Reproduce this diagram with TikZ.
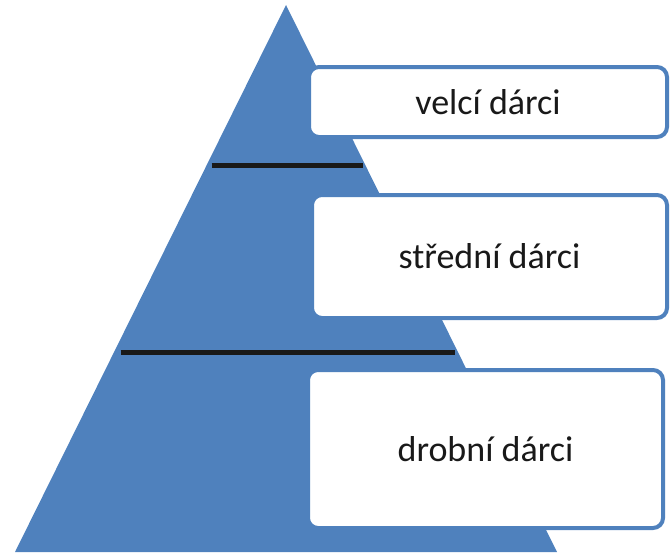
\documentclass[tikz,border=0pt]{standalone}
\usepackage{fontspec}
\setmainfont{Carlito}
\usepackage{tikz}
\usetikzlibrary{calc}
\definecolor{pyramidblue}{HTML}{4F81BD}
\colorlet{donortext}{black!90}
\tikzstyle{donorbox} = [
    draw=pyramidblue,
    fill=white,
    line width=4pt,
    rounded corners=10pt,
    rectangle,
    inner sep=0pt,
    text=donortext,
    font=\fontsize{36}{40}\selectfont
    ]
\tikzstyle{levelline} = [
    draw=black!90,
    line width=5pt
    ]

\begin{document}
\begin{tikzpicture}[x=1pt,y=-1pt]
\useasboundingbox (0,0) rectangle (671,554);
% pyramid
\coordinate (apex) at (286,5);
\coordinate (baseleft) at (15,552);
\coordinate (baseright) at (557,552);
\fill[pyramidblue] (apex) -- (baseleft) -- (baseright) -- cycle;
% levels
\coordinate (upleft) at ($(apex)!0.293!(baseleft)+(5,0)$);
\coordinate (upright) at ($(apex)!0.293!(baseright)+(-2,0)$);
\coordinate (lowleft) at ($(apex)!0.636!(baseleft)+(7,0)$);
\coordinate (lowright) at ($(apex)!0.636!(baseright)+(-3,0)$);
\draw[levelline] (upleft) -- (upright);
\draw[levelline] (lowleft) -- (lowright);
% boxes
\node[donorbox, minimum width=358pt, minimum height=70pt] (big) at (488,102) {velcí dárci};
\node[donorbox, minimum width=355pt, minimum height=123pt] (middle) at (489.5,256.5) {střední dárci};
\node[donorbox, minimum width=355pt, minimum height=158pt] (small) at (485.5,449) {drobní dárci};
\end{tikzpicture}
\end{document}
